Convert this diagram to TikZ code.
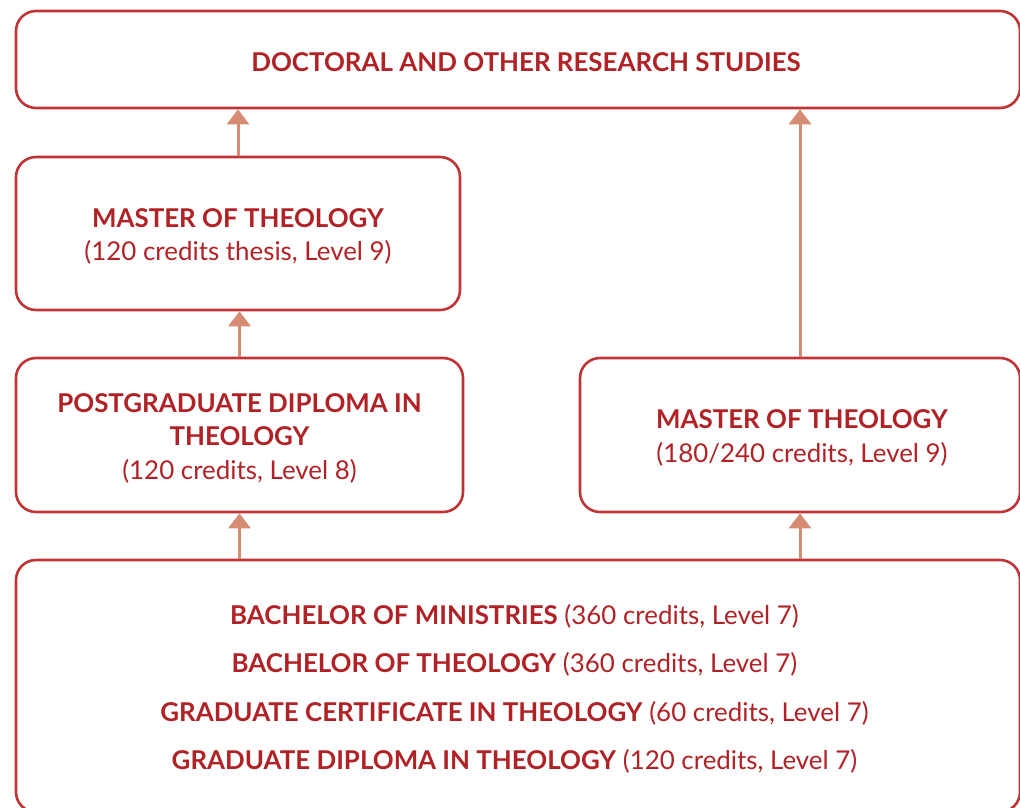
\documentclass[tikz,border=0pt]{standalone}
\usepackage{fontspec}
\setmainfont{Lato}
\usepackage{tikz}
\usetikzlibrary{arrows.meta,positioning}

\definecolor{boxred}{RGB}{192,52,54}
\definecolor{textred}{RGB}{176,34,38}
\definecolor{arrowsalmon}{RGB}{214,140,114}

\tikzset{
  stage/.style={draw=boxred, line width=2.6pt, rounded corners=20pt,
    inner sep=0pt},
  lbl/.style={align=center, text=textred, inner sep=0pt, yshift=-3pt},
  uparrow/.style={draw=arrowsalmon, line width=3pt,
    -{Triangle[width=22pt,length=15pt]}},
}

\newcommand{\ttl}[1]{\textbf{#1}}

\begin{document}
\begin{tikzpicture}[x=1pt, y=-1pt, font=\fontsize{25.9}{33.5}\selectfont]

  % ----------------------
  % Area of the picture
  % ----------------------
  \useasboundingbox (0,0) rectangle (1020,807);

  % ----------------------
  % Boxes
  % ----------------------
  \node[stage, minimum width=1004pt, minimum height=97pt] (doc) at (518,59.5) {};
  \node[stage, minimum width=444pt, minimum height=153pt] (mtl) at (238,233.5) {};
  \node[stage, minimum width=447pt, minimum height=154pt] (pgd) at (239.5,435) {};
  \node[stage, minimum width=440pt, minimum height=154pt] (mtr) at (800,435) {};
  \node[stage, minimum width=1004pt, minimum height=252pt] (bach) at (518,686) {};

  % ----------------------
  % Texts
  % ----------------------
  \node[lbl, xshift=8pt] (doc-t) at (doc) {\ttl{DOCTORAL AND OTHER RESEARCH STUDIES}};
  \node[lbl] (mtl-t) at (mtl) {\ttl{MASTER OF THEOLOGY}\\(120 credits thesis, Level 9)};
  \node[lbl] (pgd-t) at (pgd)
    {\ttl{POSTGRADUATE DIPLOMA IN}\\\ttl{THEOLOGY}\\(120 credits, Level 8)};
  \node[lbl, xshift=2pt] (mtr-t) at (mtr) {\ttl{MASTER OF THEOLOGY}\\(180/240 credits, Level 9)};
  \node[lbl, xshift=-3.5pt, font=\fontsize{25.9}{48.4}\selectfont] (bach-t) at (bach)
    {\ttl{BACHELOR OF MINISTRIES} (360 credits, Level 7)\\
     \ttl{BACHELOR OF THEOLOGY} (360 credits, Level 7)\\
     \ttl{GRADUATE CERTIFICATE IN THEOLOGY} (60 credits, Level 7)\\
     \ttl{GRADUATE DIPLOMA IN THEOLOGY} (120 credits, Level 7)};

  % ----------------------
  % Arrows
  % ----------------------
  \draw[uparrow] (mtl.north) -- (doc.south -| mtl.north);
  \draw[uparrow] (pgd.north) -- (mtl.south -| pgd.north);
  \draw[uparrow] (mtr.north) -- (doc.south -| mtr.north);
  \draw[uparrow] (bach.north -| pgd.south) -- (pgd.south);
  \draw[uparrow] (bach.north -| mtr.south) -- (mtr.south);

\end{tikzpicture}
\end{document}
